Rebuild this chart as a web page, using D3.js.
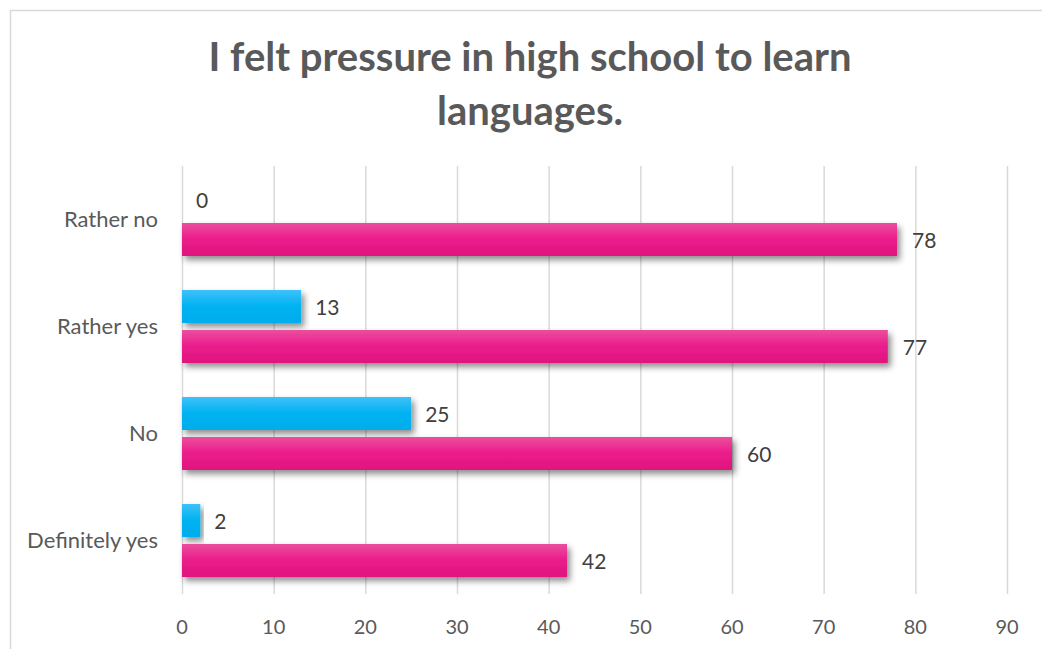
<!DOCTYPE html>
<html>
<head>
<meta charset="utf-8">
<script src="https://cdn.jsdelivr.net/npm/d3@7"></script>
<style>
  body { margin: 0; background: #fff; }
  svg { display: block; font-family: Lato, "Open Sans", sans-serif; }
</style>
</head>
<body>
<svg id="chart"></svg>
<script>
// data
const categories = ["Rather no", "Rather yes", "No", "Definitely yes"];
const blueValues = [0, 13, 25, 2];
const pinkValues = [78, 77, 60, 42];
const ticks = [0, 10, 20, 30, 40, 50, 60, 70, 80, 90];

const width = 1042, height = 649;
const margin = { left: 182, right: 35, top: 166, bottom: 55 };

const svg = d3.select("#chart")
  .attr("width", width)
  .attr("height", height);

// gradients + shadow
const defs = svg.append("defs");
const gBlue = defs.append("linearGradient").attr("id", "gBlue")
  .attr("x1", 0).attr("y1", 0).attr("x2", 0).attr("y2", 1);
gBlue.append("stop").attr("offset", "0%").attr("stop-color", "#3ec1f8");
gBlue.append("stop").attr("offset", "45%").attr("stop-color", "#05b3f2");
gBlue.append("stop").attr("offset", "100%").attr("stop-color", "#00acec");

const gPink = defs.append("linearGradient").attr("id", "gPink")
  .attr("x1", 0).attr("y1", 0).attr("x2", 0).attr("y2", 1);
gPink.append("stop").attr("offset", "0%").attr("stop-color", "#ea4f9e");
gPink.append("stop").attr("offset", "45%").attr("stop-color", "#ec1f8d");
gPink.append("stop").attr("offset", "100%").attr("stop-color", "#df137e");

const shadow = defs.append("filter").attr("id", "shadow")
  .attr("x", "-10%").attr("y", "-30%").attr("width", "130%").attr("height", "190%");
shadow.append("feDropShadow")
  .attr("dx", 3).attr("dy", 4).attr("stdDeviation", 3)
  .attr("flood-color", "#000").attr("flood-opacity", 0.45);

// outer border
svg.append("rect")
  .attr("x", 10.5).attr("y", 10.5)
  .attr("width", width + 20).attr("height", height + 20)
  .attr("fill", "none").attr("stroke", "#d9d9d9").attr("stroke-width", 1.5);

// title
const title = svg.append("text")
  .attr("text-anchor", "middle")
  .attr("fill", "#595959")
  .attr("font-size", 40)
  .attr("font-weight", "bold");
title.append("tspan").attr("x", 530).attr("y", 71).text("I felt pressure in high school to learn");
title.append("tspan").attr("x", 530).attr("y", 125).text("languages.");

// scales
const xScale = d3.scaleLinear()
  .domain([0, 90])
  .range([margin.left, width - margin.right]);

const yScale = d3.scaleBand()
  .domain(categories)
  .range([margin.top, height - margin.bottom]);

const barH = 33, gap = 7;

// gridlines
svg.append("g")
  .selectAll("line")
  .data(ticks)
  .join("line")
  .attr("x1", d => xScale(d) + 0.5)
  .attr("x2", d => xScale(d) + 0.5)
  .attr("y1", margin.top)
  .attr("y2", height - margin.bottom)
  .attr("stroke", "#d9d9d9")
  .attr("stroke-width", 1.5);

// x axis labels
svg.append("g")
  .selectAll("text")
  .data(ticks)
  .join("text")
  .attr("x", d => xScale(d))
  .attr("y", 634)
  .attr("text-anchor", "middle")
  .attr("fill", "#595959")
  .attr("font-size", 20)
  .text(d => d);

// category labels
svg.append("g")
  .selectAll("text")
  .data(categories)
  .join("text")
  .attr("x", 158)
  .attr("y", d => yScale(d) + yScale.bandwidth() / 2)
  .attr("dy", "0.35em")
  .attr("text-anchor", "end")
  .attr("fill", "#595959")
  .attr("font-size", 22)
  .text(d => d);

const blueTop = d => yScale(d) + yScale.bandwidth() / 2 - gap / 2 - barH;
const pinkTop = d => yScale(d) + yScale.bandwidth() / 2 + gap / 2;

// blue bars
svg.append("g")
  .selectAll("rect")
  .data(categories)
  .join("rect")
  .attr("x", xScale(0))
  .attr("y", d => blueTop(d))
  .attr("width", (d, i) => xScale(blueValues[i]) - xScale(0))
  .attr("height", barH)
  .attr("fill", "url(#gBlue)")
  .attr("filter", (d, i) => blueValues[i] > 0 ? "url(#shadow)" : null);

// pink bars
svg.append("g")
  .selectAll("rect")
  .data(categories)
  .join("rect")
  .attr("x", xScale(0))
  .attr("y", d => pinkTop(d))
  .attr("width", (d, i) => xScale(pinkValues[i]) - xScale(0))
  .attr("height", barH)
  .attr("fill", "url(#gPink)")
  .attr("filter", "url(#shadow)");

// value labels
svg.append("g")
  .selectAll("text")
  .data(categories)
  .join("text")
  .attr("x", (d, i) => xScale(blueValues[i]) + 14)
  .attr("y", d => blueTop(d) + barH / 2 + 1)
  .attr("dy", "0.35em")
  .attr("fill", "#404040")
  .attr("font-size", 21)
  .text((d, i) => blueValues[i]);

svg.append("g")
  .selectAll("text")
  .data(categories)
  .join("text")
  .attr("x", (d, i) => xScale(pinkValues[i]) + 15)
  .attr("y", d => pinkTop(d) + barH / 2 + 1)
  .attr("dy", "0.35em")
  .attr("fill", "#404040")
  .attr("font-size", 21)
  .text((d, i) => pinkValues[i]);
</script>
</body>
</html>
